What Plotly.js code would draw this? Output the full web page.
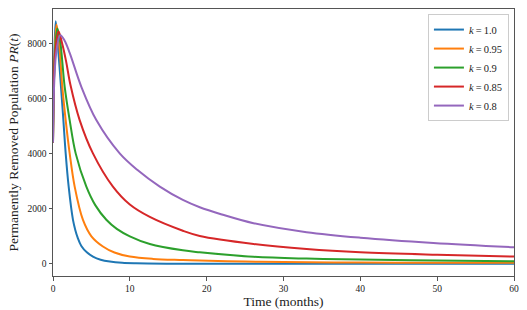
<!DOCTYPE html>
<html>
<head>
<meta charset="utf-8">
<script src="https://cdn.plot.ly/plotly-3.0.1.min.js"></script>
<style>html,body{margin:0;padding:0;background:#fff;}#chart{width:527px;height:310px;}</style>
</head>
<body>
<div id="chart"></div>
<script>
// Series labels (k values)
const kLabels = ['1.0', '0.95', '0.9', '0.85', '0.8'];
const colors = ['#1f77b4', '#ff7f0e', '#2ca02c', '#d62728', '#9467bd'];

// k = 1.0
const t_k100 = [0, 0.15, 0.35, 0.6, 1.04, 1.35, 1.65, 2.04, 2.6, 2.9, 3.2, 3.69, 4.4, 5.2, 6.2, 7.4, 9, 10.8, 15, 20, 30, 40, 50, 60];
const pr_k100 = [4400, 7300, 8800, 8050, 6419, 5213, 4006, 2799, 1593, 1230, 960, 650, 420, 265, 150, 82, 38, 20, 8, 5, 3, 2, 1, 1];

// k = 0.95
const t_k095 = [0, 0.2, 0.45, 0.75, 1.21, 1.65, 2.17, 2.82, 3.9, 5.0, 6.5, 8.0, 10, 13, 16.9, 19.1, 25, 30, 40, 50, 60];
const pr_k095 = [4400, 7400, 8680, 8150, 6419, 5213, 4006, 2799, 1593, 1000, 630, 410, 265, 180, 140, 120, 85, 65, 48, 42, 38];

// k = 0.9
const t_k090 = [0, 0.25, 0.56, 0.9, 1.52, 2.17, 2.95, 4.34, 5.5, 6.94, 8.3, 10, 12.6, 16.9, 19.1, 26.1, 33, 40, 50, 60];
const pr_k090 = [4400, 7600, 8530, 8150, 6419, 5213, 4006, 2799, 2130, 1600, 1270, 1000, 720, 490, 420, 255, 190, 160, 122, 95];

// k = 0.85
const t_k085 = [0, 0.3, 0.72, 1.2, 1.7, 2.26, 3.47, 5.2, 7.8, 10, 12.6, 16.9, 19.1, 26.1, 33, 40, 50, 60];
const pr_k085 = [4400, 7700, 8420, 7980, 7350, 6500, 5213, 4006, 2799, 2150, 1700, 1200, 1013, 724, 540, 420, 330, 265];

// k = 0.8
const t_k080 = [0, 0.4, 0.95, 1.5, 2.17, 3.69, 5.64, 8.68, 11, 13.9, 16.9, 19.1, 22, 26.1, 33, 40, 49.5, 60];
const pr_k080 = [4400, 7600, 8290, 8100, 7650, 6419, 5213, 4006, 3400, 2799, 2317, 2052, 1790, 1473, 1150, 950, 760, 604];

const xs = [t_k100, t_k095, t_k090, t_k085, t_k080];
const ys = [pr_k100, pr_k095, pr_k090, pr_k085, pr_k080];

const xTicks = [0, 10, 20, 30, 40, 50, 60];
const yTicks = [0, 2000, 4000, 6000, 8000];

const serif = 'Liberation Serif, Times New Roman, serif';

const traces = kLabels.map((k, i) => ({
  type: 'scatter',
  mode: 'lines',
  x: xs[i],
  y: ys[i],
  name: '<i>k</i>\u2009=\u2009' + k,
  line: {color: colors[i], width: 2, shape: 'spline', smoothing: 1}
}));

const axisCommon = {
  showline: true, mirror: true, linecolor: '#555', linewidth: 1,
  ticks: 'outside', ticklen: 3.5, tickwidth: 1, tickcolor: '#555',
  showgrid: false, zeroline: false,
  tickfont: {family: serif, size: 9.5, color: '#222'},
  automargin: false
};

const layout = {
  width: 527, height: 310,
  margin: {l: 53, r: 13, t: 9, b: 34},
  paper_bgcolor: '#fff', plot_bgcolor: '#fff',
  font: {family: serif},
  showlegend: true,
  legend: {
    x: 0.989, xanchor: 'right', y: 0.981, yanchor: 'top',
    bgcolor: 'rgba(255,255,255,0.8)', bordercolor: '#ccc', borderwidth: 1,
    itemwidth: 30,
    font: {family: serif, size: 10.5, color: '#222'}
  },
  xaxis: Object.assign({}, axisCommon, {
    range: [0, 60], tickvals: xTicks,
    title: {text: 'Time (months)', font: {family: serif, size: 13.5, color: '#222'}, standoff: 3}
  }),
  yaxis: Object.assign({}, axisCommon, {
    range: [-440, 9240], tickvals: yTicks,
    title: {text: 'Permanently Removed Population <i>PR</i>(<i>t</i>)', font: {family: serif, size: 13.5, color: '#222'}, standoff: 5}
  })
};

Plotly.newPlot('chart', traces, layout, {displayModeBar: false, staticPlot: true});
</script>
</body>
</html>
